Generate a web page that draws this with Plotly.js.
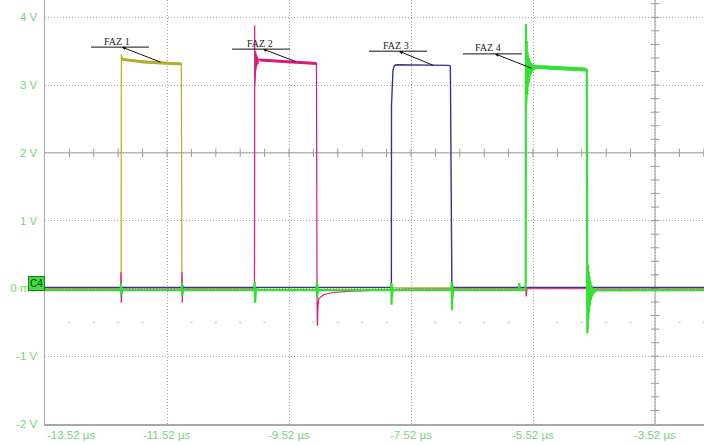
<!DOCTYPE html>
<html>
<head>
<meta charset="utf-8">
<script src="https://cdn.plot.ly/plotly-3.0.1.min.js"></script>
<style>html,body{margin:0;padding:0;background:#fff;}#chart{width:704px;height:445px;}</style>
</head>
<body>
<div id="chart"></div>
<script>
// ---------------- data ----------------
// Channel 1 (FAZ 1, olive)
const timeC1 = [-13.52, -12.272, -12.268, -12.262, -12.255, -12.24, -12.2, -12.0, -11.8, -11.6, -11.4, -11.285, -11.275, -11.268, -11.26, -11.25, -2.717];
const voltC1 = [0.01, 0.01, 3.45, 3.36, 3.42, 3.37, 3.38, 3.36, 3.35, 3.34, 3.33, 3.32, 0.01, -0.06, 0.05, 0.01, 0.01];
const platTimeC1 = [-12.262, -12.1, -11.9, -11.7, -11.5, -11.285];
const platVoltC1 = [3.38, 3.36, 3.34, 3.33, 3.32, 3.31];

// Channel 2 (FAZ 2, magenta)
const timeC2 = [-13.52, -12.278, -12.274, -12.27, -12.266, -12.26, -11.278, -11.274, -11.27, -11.266, -11.26,
  -10.086, -10.082, -10.079, -10.075, -10.071, -10.066, -10.061, -10.055, -10.048, -10.04, -10.03, -10.02, -10.0,
  -9.9, -9.7, -9.5, -9.3, -9.07, -9.061, -9.056, -9.045, -9.03, -8.95, -8.8, -8.5, -8.0, -7.6,
  -5.64, -5.63, -5.62, -5.6, -4.64, -4.63, -2.717];
const voltC2 = [-0.01, -0.01, 0.24, -0.21, 0.05, -0.01, -0.01, 0.24, -0.21, 0.05, -0.01,
  -0.01, 3.88, 3.0, 3.6, 3.15, 3.5, 3.22, 3.45, 3.27, 3.42, 3.31, 3.39, 3.37,
  3.36, 3.35, 3.34, 3.33, 3.32, 0.0, -0.55, -0.25, -0.15, -0.09, -0.06, -0.04, -0.02, -0.01,
  -0.01, -0.12, 0.0, -0.005, -0.005, -0.01, -0.01];
const platTimeC2 = [-10.0, -9.8, -9.6, -9.4, -9.2, -9.07];
const platVoltC2 = [3.37, 3.36, 3.35, 3.34, 3.33, 3.32];

// Channel 3 (FAZ 3, navy)
const timeC3 = [-13.52, -7.842, -7.84, -7.83, -7.815, -7.8, -7.785, -7.76, -7.5, -7.2, -7.0, -6.9, -6.875, -6.868, -6.865, -6.855, -6.85, -2.717];
const voltC3 = [0.015, 0.015, 2.70, 3.05, 3.22, 3.27, 3.29, 3.30, 3.30, 3.30, 3.30, 3.29, 3.28, 2.5, 2.45, 0.2, 0.015, 0.015];

// Channel 4 (FAZ 4, green)
const timeC4 = [-13.52,
  -12.28, -12.274, -12.27, -12.266, -12.26, -12.25,
  -11.28, -11.274, -11.27, -11.266, -11.26, -11.25,
  -10.09, -10.083, -10.079, -10.074, -10.068, -10.06, -10.05,
  -9.07, -9.063, -9.059, -9.054, -9.048, -9.04, -9.03,
  -7.85, -7.843, -7.839, -7.834, -7.828, -7.82, -7.81,
  -6.86, -6.853, -6.849, -6.844, -6.838, -6.83, -6.82,
  -5.75, -5.745, -5.74,
  -5.645, -5.64, -5.636, -5.633, -5.630, -5.627, -5.623, -5.619, -5.615, -5.611, -5.606, -5.601, -5.596, -5.590,
  -5.584, -5.578, -5.571, -5.564, -5.556, -5.548, -5.540, -5.530, -5.520, -5.505, -5.48, -5.3, -5.0, -4.8, -4.645,
  -4.638, -4.634, -4.630, -4.626, -4.622, -4.617, -4.612, -4.606, -4.600, -4.593, -4.586, -4.578, -4.570, -4.560,
  -4.548, -4.535, -4.52, -4.50, -2.717];
const voltC4 = [-0.025,
  -0.025, 0.07, -0.1, 0.05, -0.06, -0.025,
  -0.025, 0.08, -0.11, 0.05, -0.06, -0.025,
  -0.025, 0.1, -0.21, 0.06, -0.12, 0.0, -0.025,
  -0.025, 0.1, -0.14, 0.06, -0.08, 0.0, -0.025,
  -0.025, 0.08, -0.24, 0.06, -0.12, 0.0, -0.025,
  -0.025, 0.09, -0.32, 0.08, -0.15, 0.0, -0.025,
  -0.025, 0.08, -0.025,
  -0.025, 0.1, 3.90, 2.71, 3.80, 2.78, 3.65, 2.86, 3.56, 2.93, 3.48, 3.00, 3.43, 3.05,
  3.40, 3.10, 3.36, 3.14, 3.33, 3.17, 3.31, 3.20, 3.29, 3.23, 3.26, 3.25, 3.24, 3.23, 3.23,
  3.22, 0.5, -0.66, 0.45, -0.55, 0.35, -0.45, 0.25, -0.35, 0.18, -0.25, 0.1, -0.17, 0.05,
  -0.12, 0.0, -0.07, -0.03, -0.025];
const platTimeC4 = [-5.52, -5.3, -5.1, -4.9, -4.7, -4.645];
const platVoltC4 = [3.27, 3.26, 3.25, 3.24, 3.235, 3.23];

// Axis tick values and labels
const timeTicks = [-13.52, -11.52, -9.52, -7.52, -5.52, -3.52];
const timeTickText = ['-13.52 µs', '-11.52 µs', '-9.52 µs', '-7.52 µs', '-5.52 µs', '-3.52 µs'];
const voltTicks = [4, 3, 2, 1, 0, -1, -2];
const voltTickText = ['4 V', '3 V', '2 V', '1 V', '0 mV', '-1 V', '-2 V'];

// Trace labels (FAZ n) placement
const labelText = ['FAZ 1', 'FAZ 2', 'FAZ 3', 'FAZ 4'];
const labelT = [-12.34, -9.995, -7.766, -6.258];
const labelV = [3.645, 3.615, 3.585, 3.555];
const underlineT0 = [-12.766, -10.454, -8.209, -6.667];
const underlineT1 = [-11.815, -9.504, -7.258, -5.70];
const underlineV = [3.56, 3.53, 3.50, 3.46];
const pointerT0 = [-12.258, -9.946, -7.717, -6.143];
const pointerT1 = [-11.602, -9.389, -7.127, -5.52];
const pointerV1 = [3.33, 3.34, 3.28, 3.24];

// ---------------- figure ----------------
const X0 = -13.52, X1 = -2.717, Y0 = -2, Y1 = 4.255;
const CENTER_T = -3.52, CENTER_V = 2;

const colC1 = '#b4ae2c', colC2 = '#d91a7f', colC3 = '#34368a', colC4 = '#35e035';

function line(t, v, color, width) {
  return {type: 'scatter', mode: 'lines', x: t, y: v, line: {color: color, width: width}, hoverinfo: 'skip', showlegend: false};
}

// graticule minor ticks on centre axes
const minorT = [], minorTy = [], minorV = [], minorVx = [], dotT = [], dotV = [];
for (let k = 1; X0 + 0.4 * k < X1; k++) {
  const t = +(X0 + 0.4 * k).toFixed(2);
  minorT.push(t); minorTy.push(CENTER_V);
  if (k % 5 !== 0) { dotT.push(t); dotV.push(-0.5); }
}
for (let k = 1; -2 + 0.2 * k < Y1; k++) {
  const v = +(-2 + 0.2 * k).toFixed(2);
  if (Math.abs(v - CENTER_V) > 1e-6) { minorV.push(v); minorVx.push(CENTER_T); }
}

const traces = [
  {type: 'scatter', mode: 'markers', x: dotT, y: dotV, marker: {color: '#e6e6e6', size: 3}, hoverinfo: 'skip', showlegend: false},
  {type: 'scatter', mode: 'markers', x: minorT, y: minorTy, marker: {symbol: 'line-ns', size: 6, line: {color: '#9a9a9a', width: 1}}, hoverinfo: 'skip', showlegend: false},
  {type: 'scatter', mode: 'markers', x: minorVx, y: minorV, marker: {symbol: 'line-ew', size: 6, line: {color: '#9a9a9a', width: 1}}, hoverinfo: 'skip', showlegend: false},
  line(timeC1, voltC1, colC1, 1.2),
  line(platTimeC1, platVoltC1, colC1, 3),
  line(timeC2, voltC2, colC2, 1.2),
  line(platTimeC2, platVoltC2, colC2, 3),
  line(timeC3, voltC3, colC3, 1.4),
  line(timeC4, voltC4, colC4, 2.2),
  line(platTimeC4, platVoltC4, colC4, 4)
];

const shapes = [
  {type: 'line', xref: 'x', yref: 'y', x0: X0, x1: X1, y0: CENTER_V, y1: CENTER_V, line: {color: '#9a9a9a', width: 1}, layer: 'below'},
  {type: 'line', xref: 'x', yref: 'y', x0: CENTER_T, x1: CENTER_T, y0: Y0, y1: Y1, line: {color: '#9a9a9a', width: 1}, layer: 'below'}
];
labelText.forEach((_, i) => {
  shapes.push({type: 'line', xref: 'x', yref: 'y', x0: underlineT0[i], x1: underlineT1[i], y0: underlineV[i], y1: underlineV[i], line: {color: '#111', width: 1}});
});

const annotations = [];
labelText.forEach((txt, i) => {
  annotations.push({xref: 'x', yref: 'y', x: labelT[i], y: labelV[i], text: txt, showarrow: false,
    font: {family: 'Liberation Serif, Times New Roman, serif', size: 10, color: '#222'}});
  annotations.push({xref: 'x', yref: 'y', x: pointerT0[i], y: underlineV[i], axref: 'x', ayref: 'y', ax: pointerT1[i], ay: pointerV1[i],
    text: '', showarrow: true, arrowhead: 2, arrowsize: 0.7, arrowwidth: 1, arrowcolor: '#111', standoff: 0, startstandoff: 0});
});
timeTicks.forEach((t, i) => {
  annotations.push({xref: 'x', yref: 'paper', x: t, y: 0, yanchor: 'middle', yshift: -11,
    xanchor: i === 0 ? 'left' : 'center', text: timeTickText[i], showarrow: false,
    font: {family: 'Liberation Sans, Arial, sans-serif', size: 11.5, color: '#78d478'}});
});
annotations.push({xref: 'paper', yref: 'y', x: 0, y: 0, xanchor: 'right', yanchor: 'middle', yshift: 5, text: 'C4', showarrow: false,
  bgcolor: '#3ee03e', bordercolor: '#1d7d1d', borderwidth: 1, borderpad: 1,
  font: {family: 'Liberation Sans, Arial, sans-serif', size: 10, color: '#0b3b0b'}});

const layout = {
  width: 704, height: 445,
  margin: {l: 45, r: 0, t: 0, b: 21, pad: 0},
  paper_bgcolor: '#ffffff', plot_bgcolor: '#ffffff',
  showlegend: false, hovermode: false,
  xaxis: {range: [X0, X1], tickvals: timeTicks, showticklabels: false, ticks: '',
    showgrid: true, gridcolor: '#a8a8a8', griddash: '1px,2px', gridwidth: 1, zeroline: false,
    showline: true, linecolor: '#a8a8a8', linewidth: 1.5},
  yaxis: {range: [Y0, Y1], tickvals: voltTicks, ticktext: voltTickText, ticks: 'outside', ticklen: 4, tickcolor: 'rgba(0,0,0,0)',
    tickfont: {family: 'Liberation Sans, Arial, sans-serif', size: 11.5, color: '#78d478'},
    showgrid: true, gridcolor: '#a8a8a8', griddash: '1px,2px', gridwidth: 1, zeroline: false,
    showline: true, linecolor: '#a8a8a8', linewidth: 1.5},
  shapes: shapes,
  annotations: annotations
};

Plotly.newPlot('chart', traces, layout, {staticPlot: true, displayModeBar: false});
</script>
</body>
</html>
